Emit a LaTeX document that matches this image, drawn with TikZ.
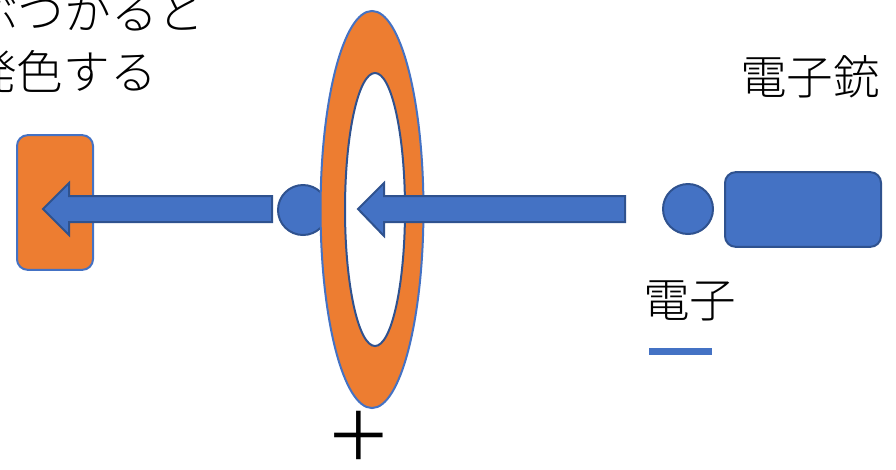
\documentclass[tikz,border=0pt]{standalone}
\usepackage{fontspec}
\setmainfont{Noto Sans CJK JP}
\newfontfamily\jpfont{Noto Sans CJK JP Light}
\newfontfamily\plusfont{Noto Sans CJK JP}
\definecolor{orng}{HTML}{ED7D31}
\definecolor{blu}{HTML}{4472C4}
\definecolor{dblu}{HTML}{2F528F}
\begin{document}
\begin{tikzpicture}[x=0.75pt,y=-0.75pt,
  lbl/.style={font=\jpfont\fontsize{35}{45}\selectfont, inner sep=0pt, anchor=base west},
  blockarrow/.style={fill=blu, draw=dblu, line width=1.5pt, line join=miter},
  ball/.style={circle, fill=blu, draw=dblu, line width=1.5pt, minimum size=37.5pt, inner sep=0pt}]
\useasboundingbox (0,0) rectangle (896,469);
\clip (0,0) rectangle (896,469);
% screen (orange plate)
\node[draw=blu, fill=orng, line width=1.5pt, rounded corners=8pt, minimum width=57pt, minimum height=101pt, inner sep=0pt] (screen) at (55,202.5) {};
% left electron
\node[ball] (e2) at (303,210) {};
% ring
\fill[orng, even odd rule] (372,209.5) ellipse [x radius=38.6pt, y radius=148.9pt]
  (375,209.5) ellipse [x radius=22.5pt, y radius=102.4pt];
\draw[blu, line width=1.5pt] (372,209.5) ellipse [x radius=38.6pt, y radius=148.9pt];
\draw[dblu, line width=1.5pt] (375,209.5) ellipse [x radius=22.5pt, y radius=102.4pt];
\coordinate (ring) at (372,209.5);
% arrows
\draw[blockarrow] (272,196) -- (69,196) -- (69,183) -- (43,209) -- (69,235) -- (69,222) -- (272,222) -- cycle;
\draw[blockarrow] (625,196) -- (384,196) -- (384,183) -- (358,209) -- (384,236) -- (384,222) -- (625,222) -- cycle;
% right electron and gun
\node[ball] (e1) at (688,209) {};
\node[fill=blu, draw=dblu, line width=1.5pt, rounded corners=8pt, minimum width=117pt, minimum height=56pt, inner sep=0pt] (gun) at (803,209.5) {};
% texts
\node[lbl] (t1) at (-29,29) {ぶつかると};
\node[lbl] (t2) at (-30,89) {発色する};
\node[lbl] (tgun) at (740,94) {電子銃};
\node[lbl] (tel) at (643,317) {電子};
\fill[blu] (649,348) rectangle (712,355);
\node[font=\plusfont\fontsize{50}{50}\selectfont, inner sep=0pt] (plus) at (359,436) {＋};
\end{tikzpicture}
\end{document}
